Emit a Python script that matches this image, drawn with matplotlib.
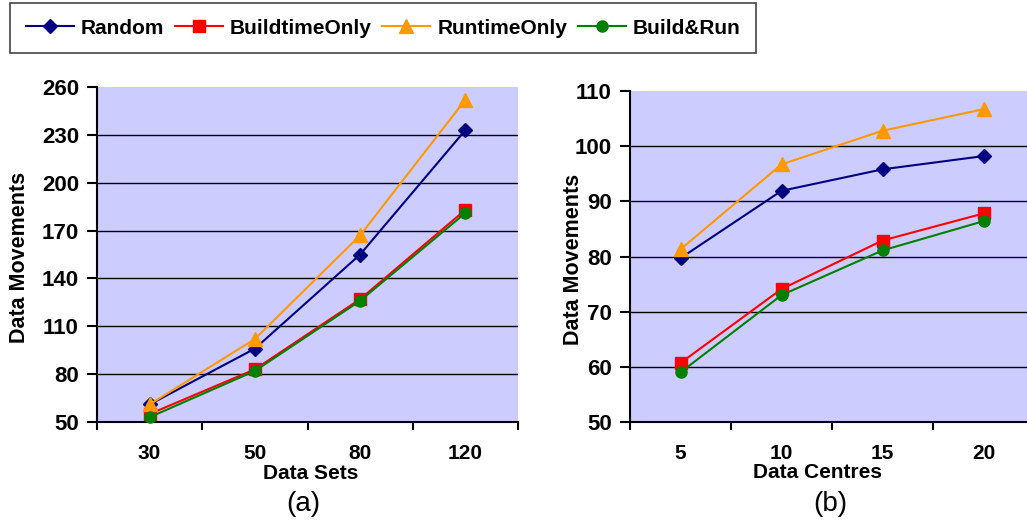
import numpy as np
import matplotlib
matplotlib.use('Agg')
import matplotlib.pyplot as plt

plt.rcParams['font.family'] = ['Liberation Sans', 'DejaVu Sans']

# data
series = ['Random', 'BuildtimeOnly', 'RuntimeOnly', 'Build&Run']
colors = ['#000080', '#FF0000', '#FF9900', '#008000']
markers = ['D', 's', '^', 'o']
msizes = [7, 8, 10, 8]

sets_labels = ['30', '50', '80', '120']
sets_random = [61, 96, 155, 233]
sets_build = [55, 83, 127, 183]
sets_runtime = [61, 102, 167, 252]
sets_both = [53, 82, 126, 181]

centres_labels = ['5', '10', '15', '20']
centres_random = [79.7, 91.9, 95.8, 98.2]
centres_build = [60.7, 74.1, 82.9, 87.8]
centres_runtime = [81.3, 96.7, 102.8, 106.7]
centres_both = [59.0, 73.0, 81.1, 86.4]

W, H = 1027, 527
fig = plt.figure(figsize=(W / 100, H / 100), dpi=100)


def px_axes(x0, x1, ytop, ybot):
    return fig.add_axes([x0 / W, 1 - ybot / H, (x1 - x0) / W, (ybot - ytop) / H])


def draw(ax, labels, data, yticks, xlabel, lx, ly):
    ax.set_facecolor('#CCCCFF')
    x = np.arange(len(labels))
    lines = []
    for vals, c, m, ms, name in zip(data, colors, markers, msizes, series):
        ln, = ax.plot(x, vals, color=c, marker=m, markersize=ms, lw=1.5,
                      label=name, zorder=3, clip_on=False)
        lines.append(ln)
    ax.set_xlim(-0.5, len(labels) - 0.5)
    ax.set_ylim(yticks[0], yticks[-1])
    for t in yticks[1:-1]:
        ax.axhline(t, color='black', lw=1, zorder=1)
    ax.set_xticks(x)
    ax.set_xticklabels(labels)
    ax.set_xticks(np.arange(-0.5, len(labels), 1), minor=True)
    ax.tick_params(axis='x', which='major', length=0, pad=16)
    ax.tick_params(axis='x', which='minor', length=6, width=1.5, direction='out')
    ax.set_yticks(yticks)
    ax.tick_params(axis='y', length=7, width=1.5, direction='out', pad=6)
    for lab in ax.get_xticklabels():
        lab.set_fontsize(15)
        lab.set_fontweight('bold')
    for lab in ax.get_yticklabels():
        lab.set_fontsize(16)
        lab.set_fontweight('bold')
    for s in ['top', 'right']:
        ax.spines[s].set_visible(False)
    for s in ['left', 'bottom']:
        ax.spines[s].set_linewidth(1.5)
    ax.set_xlabel(xlabel, fontsize=15, fontweight='bold')
    ax.xaxis.set_label_coords(lx, -0.125)
    ax.set_ylabel('Data Movements', fontsize=15.5, fontweight='bold')
    ax.yaxis.set_label_coords(ly, 0.49)
    return lines


ax1 = px_axes(97, 518, 87, 422)
lines = draw(ax1, sets_labels, [sets_random, sets_build, sets_runtime, sets_both],
             [50, 80, 110, 140, 170, 200, 230, 260], 'Data Sets', 0.508, -0.16)

ax2 = px_axes(630, 1034, 91, 422)
draw(ax2, centres_labels, [centres_random, centres_build, centres_runtime, centres_both],
     [50, 60, 70, 80, 90, 100, 110], 'Data Centres', 0.465, -0.115)

fig.text(303 / W, 1 - 504 / H, '(a)', fontsize=20, ha='center', va='center')
fig.text(830 / W, 1 - 504 / H, '(b)', fontsize=20, ha='center', va='center')

leg = fig.legend(handles=lines, loc='upper left', bbox_to_anchor=(10 / W, 1 - 3 / H),
                 borderaxespad=0, ncol=4, fancybox=False, edgecolor='#444444',
                 framealpha=1, prop={'weight': 'bold', 'size': 15}, handlelength=2.3,
                 columnspacing=0.5, handletextpad=0.35, borderpad=0.75)
leg.get_frame().set_linewidth(1.2)

fig.savefig('out.png', dpi=100)
